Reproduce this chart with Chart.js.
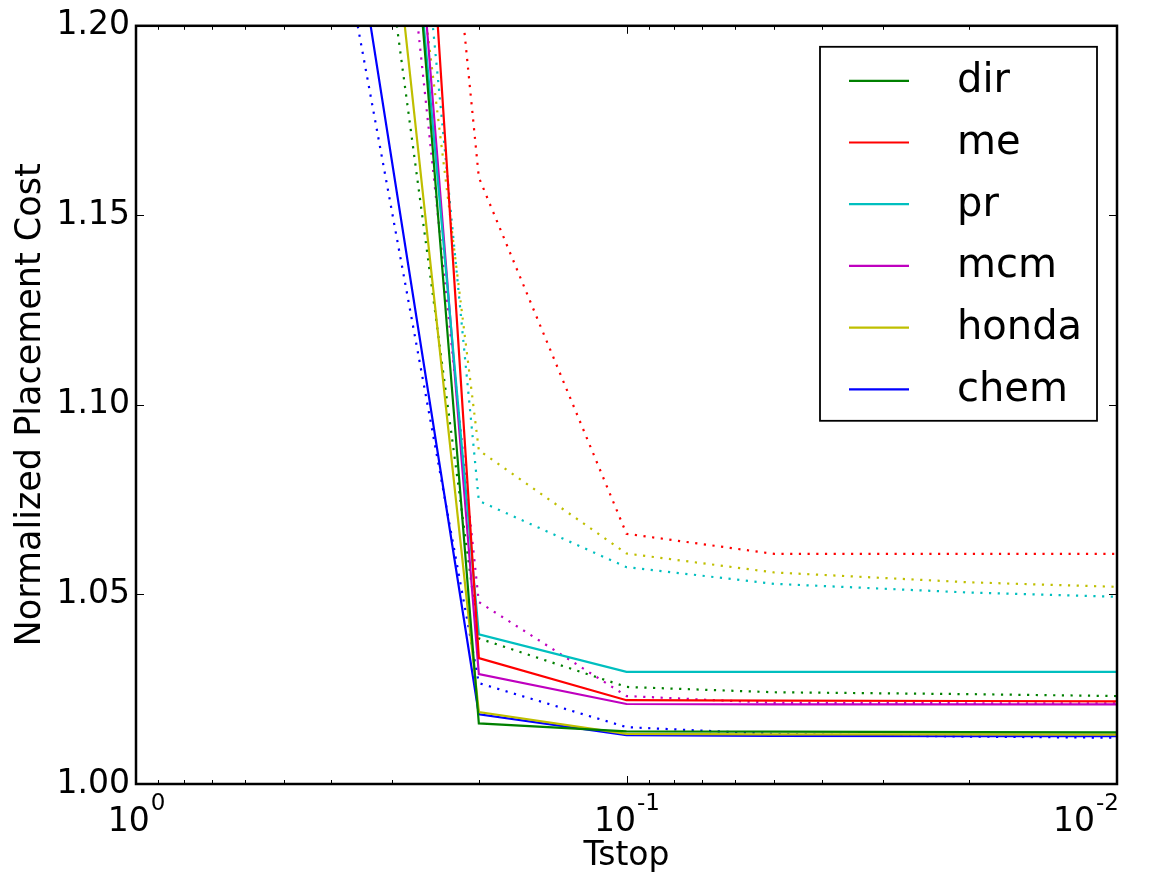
<!DOCTYPE html>
<html>
<head>
<meta charset="utf-8">
<script src="https://cdn.jsdelivr.net/npm/chart.js@4.4.1/dist/chart.umd.min.js"></script>
<style>
  html, body { margin: 0; padding: 0; background: #fff; }
  canvas { display: block; }
</style>
</head>
<body>
<canvas id="costChart" width="1152" height="879"></canvas>
<script>
// Tstop values (x axis, log scale, reversed)
const tstop = [0.5, 0.2, 0.1, 0.05, 0.02, 0.01];

const names = ['dir', 'me', 'pr', 'mcm', 'honda', 'chem'];
const colors = ['#008000', '#ff0000', '#00bfbf', '#bf00bf', '#bfbf00', '#0000ff'];

// solid lines (shown in legend)
const dirSolid   = [1.657, 1.0160, 1.0139, 1.0138, 1.0137, 1.0136];
const meSolid    = [1.826, 1.0332, 1.0221, 1.0220, 1.0219, 1.0218];
const prSolid    = [1.609, 1.0395, 1.0296, 1.0296, 1.0296, 1.0296];
const mcmSolid   = [1.670, 1.0290, 1.0211, 1.0210, 1.0210, 1.0210];
const hondaSolid = [1.496, 1.0190, 1.0132, 1.0131, 1.0131, 1.0130];
const chemSolid  = [1.346, 1.0184, 1.0129, 1.0127, 1.0126, 1.0126];

// dotted lines (same colours, not in legend)
const dirDotted   = [1.423, 1.0384, 1.0256, 1.0242, 1.0237, 1.0232];
const meDotted    = [1.680, 1.1600, 1.0660, 1.0607, 1.0607, 1.0607];
const prDotted    = [1.606, 1.0747, 1.0572, 1.0528, 1.0505, 1.0494];
const mcmDotted   = [1.534, 1.0480, 1.0232, 1.0214, 1.0213, 1.0213];
const hondaDotted = [1.508, 1.0880, 1.0608, 1.0558, 1.0532, 1.0520];
const chemDotted  = [1.306, 1.0266, 1.0150, 1.0132, 1.0125, 1.0122];

const yTicks = [1.00, 1.05, 1.10, 1.15, 1.20];
const xMajor = [1, 0.1, 0.01];
const xLabels = [['10', '0'], ['10', '-1'], ['10', '-2']];

const solids = [dirSolid, meSolid, prSolid, mcmSolid, hondaSolid, chemSolid];
const dotteds = [dirDotted, meDotted, prDotted, mcmDotted, hondaDotted, chemDotted];

const FONT = '"DejaVu Sans", sans-serif';

function toPoints(vals) {
    return vals.map((v, i) => ({ x: tstop[i], y: v }));
}

const datasets = [];
names.forEach((name, i) => {
    datasets.push({
        label: name,
        data: toPoints(solids[i]),
        borderColor: colors[i],
        borderWidth: 2.2,
        pointRadius: 0,
        tension: 0,
        clip: 0,
        legendLine: true
    });
});
names.forEach((name, i) => {
    datasets.push({
        label: name + ' (dotted)',
        data: toPoints(dotteds[i]),
        borderColor: colors[i],
        borderWidth: 2.2,
        borderDash: [2.2, 6.5],
        borderCapStyle: 'butt',
        pointRadius: 0,
        tension: 0,
        clip: 0
    });
});

// matplotlib-like frame, inward ticks, superscript tick labels and legend
const decorPlugin = {
    id: 'decor',
    afterDatasetsDraw(chart) {
        const { ctx, chartArea: a, scales: { x, y } } = chart;
        ctx.save();
        ctx.strokeStyle = '#000';
        ctx.lineWidth = 1;

        const seg = (x1, y1, x2, y2) => {
            ctx.beginPath();
            ctx.moveTo(x1, y1);
            ctx.lineTo(x2, y2);
            ctx.stroke();
        };

        // x ticks (major + minor on log decades)
        xMajor.forEach(v => {
            const px = Math.round(x.getPixelForValue(v)) + 0.5;
            seg(px, a.bottom, px, a.bottom - 8);
            seg(px, a.top, px, a.top + 8);
        });
        [1, 0.1].forEach(dec => {
            for (let m = 2; m <= 9; m++) {
                const px = Math.round(x.getPixelForValue(dec * m / 10)) + 0.5;
                seg(px, a.bottom, px, a.bottom - 4);
                seg(px, a.top, px, a.top + 4);
            }
        });

        // y ticks
        yTicks.forEach(v => {
            const py = Math.round(y.getPixelForValue(v)) + 0.5;
            seg(a.left, py, a.left + 8, py);
            seg(a.right, py, a.right - 8, py);
        });

        // frame
        ctx.lineWidth = 2.5;
        ctx.strokeRect(a.left, a.top, a.width, a.height);

        // x tick labels 10^n
        ctx.fillStyle = '#000';
        ctx.textBaseline = 'alphabetic';
        ctx.textAlign = 'left';
        xMajor.forEach((v, i) => {
            const [base, exp] = xLabels[i];
            ctx.font = '33px ' + FONT;
            const wb = ctx.measureText(base).width;
            ctx.font = '23px ' + FONT;
            const we = ctx.measureText(exp).width;
            const total = wb + we;
            let start = x.getPixelForValue(v) - total / 2;
            start = Math.min(start, chart.width - 34 - total);
            ctx.font = '33px ' + FONT;
            ctx.fillText(base, start, a.bottom + 47);
            ctx.font = '23px ' + FONT;
            ctx.fillText(exp, start + wb + 1, a.bottom + 26);
        });

        // legend (solid lines only)
        const boxR = a.right - 20, boxT = a.top + 21;
        const boxW = 277, boxH = 374;
        const boxL = boxR - boxW;
        ctx.fillStyle = '#fff';
        ctx.fillRect(boxL, boxT, boxW, boxH);
        ctx.lineWidth = 1.8;
        ctx.strokeStyle = '#000';
        ctx.strokeRect(boxL, boxT, boxW, boxH);
        ctx.font = '40px ' + FONT;
        ctx.textBaseline = 'middle';
        chart.data.datasets.filter(d => d.legendLine).forEach((d, i) => {
            const ry = boxT + 34 + i * 61.7;
            ctx.strokeStyle = d.borderColor;
            ctx.lineWidth = 2.2;
            seg(boxL + 29, ry, boxL + 89, ry);
            ctx.fillStyle = '#000';
            ctx.fillText(d.label, boxL + 137, ry + 1);
        });
        ctx.restore();
    }
};

document.addEventListener('DOMContentLoaded', function() {
    const ctx = document.getElementById('costChart').getContext('2d');

    new Chart(ctx, {
        type: 'line',
        data: { datasets: datasets },
        options: {
            responsive: false,
            animation: false,
            devicePixelRatio: 1,
            layout: { padding: { top: 24, right: 35, left: 0, bottom: 0 } },
            plugins: {
                legend: { display: false },
                tooltip: { enabled: false }
            },
            scales: {
                x: {
                    type: 'logarithmic',
                    reverse: true,
                    min: 0.01,
                    max: 1,
                    afterFit: function(scale) { scale.height = 95; },
                    ticks: { display: false },
                    grid: { display: false, drawTicks: false },
                    border: { display: false },
                    title: {
                        display: true,
                        text: 'Tstop',
                        color: '#000',
                        font: { family: FONT, size: 33 },
                        padding: { top: 0, bottom: 3 }
                    }
                },
                y: {
                    min: 1,
                    max: 1.2,
                    afterFit: function(scale) { scale.width = 136; },
                    afterBuildTicks: function(scale) {
                        scale.ticks = yTicks.map(v => ({ value: v }));
                    },
                    ticks: {
                        callback: v => v.toFixed(2),
                        color: '#000',
                        font: { family: FONT, size: 33 },
                        padding: 6
                    },
                    grid: { display: false, drawTicks: false },
                    border: { display: false },
                    title: {
                        display: true,
                        text: 'Normalized Placement Cost',
                        color: '#000',
                        font: { family: FONT, size: 35 },
                        padding: { top: 10, bottom: 0 }
                    }
                }
            }
        },
        plugins: [decorPlugin]
    });
});
</script>
</body>
</html>
